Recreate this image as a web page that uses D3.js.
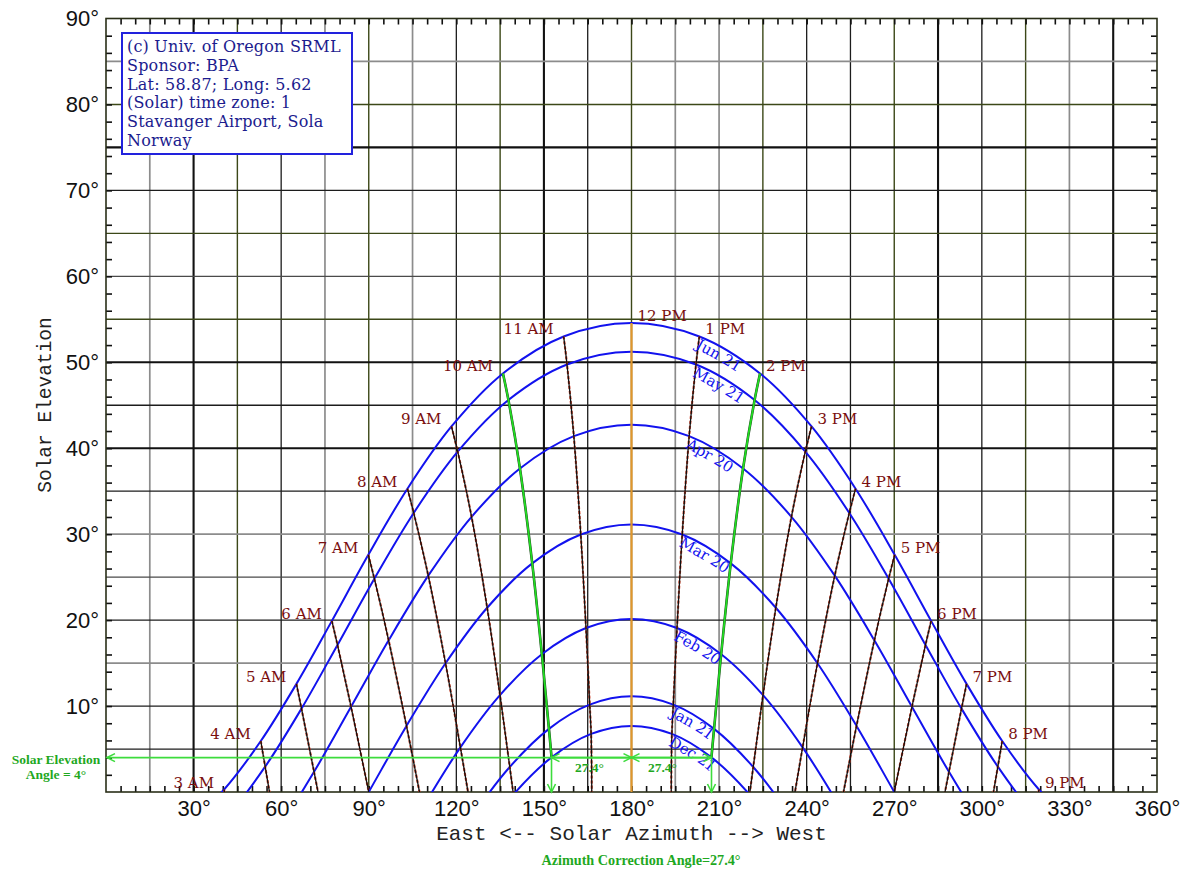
<!DOCTYPE html>
<html>
<head>
<meta charset="utf-8">
<script src="https://cdn.jsdelivr.net/npm/d3@7"></script>
<style>
  body { margin: 0; background: #fff; }
  svg { display: block; }
</style>
</head>
<body>
<svg id="chart" width="1186" height="870"></svg>
<script>
// solar time of each column in the date arrays
const hourLabels = ["2 AM", "3 AM", "4 AM", "5 AM", "6 AM", "7 AM", "8 AM", "9 AM", "10 AM", "11 AM", "12 PM",
  "1 PM", "2 PM", "3 PM", "4 PM", "5 PM", "6 PM", "7 PM", "8 PM", "9 PM", "10 PM"];

const dateLabels = ["Jun 21", "May 21", "Apr 20", "Mar 20", "Feb 20", "Jan 21", "Dec 21"];

// [azimuth, elevation] per hour, null = not drawn
const jun21 = [[27.38, -4.03], [40.45, 0.29], [53.02, 5.93], [65.23, 12.58], [77.37, 19.91], [89.85, 27.60],
  [103.25, 35.29], [118.33, 42.53], [135.97, 48.70], [156.76, 53.00], [180, 54.57], [203.24, 53.00],
  [224.03, 48.70], [241.67, 42.53], [256.75, 35.29], [270.15, 27.60], [282.63, 19.91], [294.77, 12.58],
  [306.98, 5.93], [319.55, 0.29], [332.62, -4.03]];
const may21 = [[28.25, -7.25], [41.67, -2.82], [54.52, 2.95], [66.96, 9.70], [79.29, 17.11], [91.92, 24.82],
  [105.40, 32.47], [120.47, 39.60], [137.84, 45.61], [157.91, 49.74], [180, 51.23], [202.09, 49.74],
  [222.16, 45.61], [239.53, 39.60], [254.60, 32.47], [268.08, 24.82], [280.71, 17.11], [293.04, 9.70],
  [305.48, 2.95], [318.33, -2.82], [331.75, -7.25]];
const apr20 = [null, [44.83, -10.72], [58.33, -4.65], [71.26, 2.35], [83.94, 9.91], [96.81, 17.65],
  [110.38, 25.17], [125.22, 32.02], [141.79, 37.64], [160.25, 41.40], [180, 42.73], [199.75, 41.40],
  [218.21, 37.64], [234.78, 32.02], [249.62, 25.17], [263.19, 17.65], [276.06, 9.91], [288.74, 2.35],
  [301.67, -4.65], [315.17, -10.72], null];
const mar20 = [null, null, null, [77.08, -7.69], [90, 0], [102.92, 7.69], [116.30, 14.98], [130.56, 21.44],
  [146.00, 26.60], [162.62, 29.96], [180, 31.13], [197.38, 29.96], [214.00, 26.60], [229.44, 21.44],
  [243.70, 14.98], [257.08, 7.69], [270, 0], [282.92, -7.69], null, null, null];
const feb20 = [null, null, null, null, [95.74, -9.40], [108.44, -1.83], [121.39, 5.19], [134.95, 11.27],
  [149.29, 16.03], [164.41, 19.08], [180, 20.13], [195.59, 19.08], [210.71, 16.03], [225.05, 11.27],
  [238.61, 5.19], [251.56, -1.83], [264.26, -9.40], null, null, null, null];
const jan21 = [null, null, null, null, null, [112.98, -9.62], [125.43, -2.86], [138.30, 2.91], [151.72, 7.35],
  [165.69, 10.16], [180, 11.13], [194.31, 10.16], [208.28, 7.35], [221.70, 2.91], [234.57, -2.86],
  [247.02, -9.62], null, null, null, null, null];
const dec21 = [null, null, null, null, null, null, [126.98, -5.93], [139.55, -0.29], [152.62, 4.03],
  [166.17, 6.76], [180, 7.69], [193.83, 6.76], [207.38, 4.03], [220.45, -0.29], [233.02, -5.93],
  null, null, null, null, null, null];

// hour lines that run on below Dec 21 down to the horizon
const hourFeet = [["11 AM", 166.4, -1], ["12 PM", 180, -1], ["1 PM", 193.6, -1]];
const labelledHours = hourLabels.slice(1, 20);
const highlightHours = ["10 AM", "2 PM"];

const azimuthTicks = [30, 60, 90, 120, 150, 180, 210, 240, 270, 300, 330, 360];
const elevationTicks = [10, 20, 30, 40, 50, 60, 70, 80, 90];

const elevationAngle = 4;
const correctionAngle = 27.4;

const infoLines = ["(c) Univ. of Oregon SRML", "Sponsor: BPA", "Lat: 58.87; Long: 5.62",
  "(Solar) time zone: 1", "Stavanger Airport, Sola", "Norway"];

const series = [jun21, may21, apr20, mar20, feb20, jan21, dec21];

const green = '#3ddc3d';
const greenText = '#1fa81f';
const blue = '#1212ee';

// grid line look
const gridStyles = {
  K: ['#111', 2.1], k: ['#1c1c1c', 1.3], o: ['#3c4818', 1.4], g: ['#8c8c8c', 1.7], d: ['#4a4a4a', 1.4],
};
const vGrid = {
  15: 'g', 30: 'K', 45: 'o', 60: 'k', 75: 'g', 90: 'o', 105: 'g', 120: 'k', 135: 'o', 150: 'K', 165: 'k', 180: 'o',
  195: 'g', 210: 'g', 225: 'o', 240: 'k', 255: 'k', 270: 'o', 285: 'K', 300: 'k', 315: 'o', 330: 'g', 345: 'K',
};
const hGrid = {
  5: 'k', 10: 'k', 15: 'g', 20: 'k', 25: 'd', 30: 'g', 35: 'k', 40: 'K', 45: 'k', 50: 'K', 55: 'o', 60: 'd',
  65: 'o', 70: 'k', 75: 'K', 80: 'o', 85: 'g',
};

const svg = d3.select('#chart');
const x = d3.scaleLinear().domain([0, 360]).range([106, 1157]);
const y = d3.scaleLinear().domain([0, 90]).range([792, 18.5]);

const defs = svg.append('defs');
defs.append('clipPath')
  .attr('id', 'plot')
  .append('rect')
  .attr('x', x(0))
  .attr('y', y(90))
  .attr('width', x(360) - x(0))
  .attr('height', y(0) - y(90));
defs.append('marker')
  .attr('id', 'arrow')
  .attr('viewBox', '-10 -6 12 12')
  .attr('markerWidth', 12)
  .attr('markerHeight', 12)
  .attr('markerUnits', 'userSpaceOnUse')
  .attr('orient', 'auto-start-reverse')
  .append('path')
  .attr('d', 'M-8,-4L0,0L-8,4')
  .attr('fill', 'none')
  .attr('stroke', green)
  .attr('stroke-width', 1.6);

// grid
const grid = svg.append('g');
grid.selectAll('.v')
  .data(Object.keys(vGrid).map(Number))
  .join('line')
  .attr('x1', (d) => x(d)).attr('x2', (d) => x(d))
  .attr('y1', y(90)).attr('y2', y(0))
  .attr('stroke', (d) => gridStyles[vGrid[d]][0])
  .attr('stroke-width', (d) => gridStyles[vGrid[d]][1]);
grid.selectAll('.h')
  .data(Object.keys(hGrid).map(Number))
  .join('line')
  .attr('y1', (d) => y(d)).attr('y2', (d) => y(d))
  .attr('x1', x(0)).attr('x2', x(360))
  .attr('stroke', (d) => gridStyles[hGrid[d]][0])
  .attr('stroke-width', (d) => gridStyles[hGrid[d]][1]);

// inner ticks
const tickAxis = (axis, tx, ty) => svg.append('g')
  .attr('transform', `translate(${tx},${ty})`)
  .call(axis)
  .call((g) => g.select('.domain').remove())
  .call((g) => g.selectAll('line').attr('stroke', '#111').attr('stroke-width', 1.6));
tickAxis(d3.axisLeft(y).tickValues(d3.range(2, 90, 2)).tickSize(-6).tickFormat(''), x(0), 0);
tickAxis(d3.axisRight(y).tickValues(d3.range(2, 90, 2)).tickSize(-6).tickFormat(''), x(360), 0);
tickAxis(d3.axisTop(x).tickValues(d3.range(5, 360, 5)).tickSize(-6).tickFormat(''), 0, y(90));
tickAxis(d3.axisBottom(x).tickValues(d3.range(5, 360, 5)).tickSize(-6).tickFormat(''), 0, y(0));

svg.append('rect')
  .attr('x', x(0)).attr('y', y(90))
  .attr('width', x(360) - x(0)).attr('height', y(0) - y(90))
  .attr('fill', 'none')
  .attr('stroke', '#2a2f18')
  .attr('stroke-width', 1.6);

// tick labels
const labelAxis = (axis, tx, ty) => svg.append('g')
  .attr('transform', `translate(${tx},${ty})`)
  .call(axis)
  .call((g) => g.select('.domain').remove())
  .call((g) => g.selectAll('.tick line').remove())
  .call((g) => g.selectAll('.tick text')
    .attr('font-family', 'Liberation Sans, Arial, sans-serif')
    .attr('font-size', 22)
    .attr('fill', '#111'));
labelAxis(d3.axisLeft(y).tickValues(elevationTicks).tickSize(0).tickPadding(7).tickFormat((d) => `${d}°`), x(0), 0);
labelAxis(d3.axisBottom(x).tickValues(azimuthTicks).tickSize(0).tickPadding(8).tickFormat((d) => `${d}°`), 0, y(0));

svg.append('text')
  .attr('transform', 'translate(46,405) rotate(-90)')
  .attr('text-anchor', 'middle')
  .attr('dominant-baseline', 'middle')
  .attr('font-family', 'Liberation Mono, Courier New, monospace')
  .attr('font-size', 19.5)
  .attr('fill', '#222')
  .text('Solar Elevation');
svg.append('text')
  .attr('x', x(180))
  .attr('y', 840)
  .attr('text-anchor', 'middle')
  .attr('font-family', 'Liberation Mono, Courier New, monospace')
  .attr('font-size', 21)
  .attr('fill', '#222')
  .text('East <-- Solar Azimuth --> West');

const line = d3.line()
  .x((d) => x(d[0]))
  .y((d) => y(d[1]))
  .curve(d3.curveCatmullRom.alpha(0.5));

const plot = svg.append('g').attr('clip-path', 'url(#plot)');

// sun paths
plot.selectAll('.path')
  .data(series)
  .join('path')
  .attr('d', (d) => line(d.filter(Boolean)))
  .attr('fill', 'none')
  .attr('stroke', blue)
  .attr('stroke-width', 2);

// hour lines
const hourData = labelledHours.map((label) => {
  const i = hourLabels.indexOf(label);
  const pts = series.map((s) => s[i]).filter(Boolean);
  hourFeet.filter((f) => f[0] === label).forEach((f) => pts.push([f[1], f[2]]));
  return { label, pts };
});
hourData.forEach((h) => {
  const g = plot.append('g');
  if (h.label === '12 PM') {
    g.append('path').attr('d', line(h.pts)).attr('fill', 'none')
      .attr('stroke', '#e0962c').attr('stroke-width', 2.2);
  } else if (highlightHours.includes(h.label)) {
    g.append('path').attr('d', line(h.pts)).attr('fill', 'none')
      .attr('stroke', '#224422').attr('stroke-width', 2.6);
    g.append('path').attr('d', line(h.pts)).attr('fill', 'none')
      .attr('stroke', '#22dd22').attr('stroke-width', 1.8);
  } else {
    g.append('path').attr('d', line(h.pts)).attr('fill', 'none')
      .attr('stroke', '#d23a1e').attr('stroke-width', 2.1)
      .attr('stroke-dasharray', '3,2');
    g.append('path').attr('d', line(h.pts)).attr('fill', 'none')
      .attr('stroke', '#111').attr('stroke-width', 1.3);
  }
});

// hour labels at the Jun 21 end
svg.append('g')
  .selectAll('text')
  .data(hourData)
  .join('text')
  .attr('x', (d) => {
    const px = x(d.pts[0][0]);
    return d.label.endsWith('AM') ? px - 10 : px + 6;
  })
  .attr('y', (d) => y(d.pts[0][1]) - 6)
  .attr('dominant-baseline', 'middle')
  .attr('text-anchor', (d) => (d.label.endsWith('AM') ? 'end' : 'start'))
  .attr('font-family', 'DejaVu Serif, serif')
  .attr('font-size', 15)
  .attr('fill', '#7a0e0e')
  .text((d) => d.label);

// date labels running along each curve from 1 PM
const pm1 = hourLabels.indexOf('1 PM');
series.forEach((s, i) => {
  defs.append('path')
    .attr('id', `date-path-${i}`)
    .attr('d', line(s.slice(pm1, pm1 + 3)));
  svg.append('text')
    .attr('font-family', 'DejaVu Serif, serif')
    .attr('font-size', 15)
    .attr('fill', blue)
    .attr('dy', 12)
    .append('textPath')
    .attr('href', `#date-path-${i}`)
    .attr('startOffset', 2)
    .text(dateLabels[i]);
});

// correction angle construction
const ann = svg.append('g')
  .attr('stroke', green)
  .attr('stroke-width', 1.6)
  .attr('fill', 'none');
const azLeft = 180 - correctionAngle;
const azRight = 180 + correctionAngle;
ann.append('line')
  .attr('x1', x(azRight)).attr('x2', x(0) + 1)
  .attr('y1', y(elevationAngle)).attr('y2', y(elevationAngle))
  .attr('marker-end', 'url(#arrow)');
[[180, azLeft], [180, azRight]].forEach(([a, b]) => {
  ann.append('line')
    .attr('x1', x(a)).attr('x2', x(b))
    .attr('y1', y(elevationAngle)).attr('y2', y(elevationAngle))
    .attr('marker-start', 'url(#arrow)')
    .attr('marker-end', 'url(#arrow)');
});
[azLeft, azRight].forEach((a) => {
  ann.append('line')
    .attr('x1', x(a)).attr('x2', x(a))
    .attr('y1', y(elevationAngle)).attr('y2', y(0))
    .attr('marker-end', 'url(#arrow)');
});

const greenLabel = (tx, ty, txt, size) => svg.append('text')
  .attr('x', tx)
  .attr('y', ty)
  .attr('text-anchor', 'middle')
  .attr('font-family', 'Liberation Serif, Times New Roman, serif')
  .attr('font-weight', 'bold')
  .attr('font-size', size)
  .attr('fill', greenText)
  .text(txt);
greenLabel(x(180) - 42, 772, `${correctionAngle}°`, 13.5);
greenLabel(x(180) + 31, 772, `${correctionAngle}°`, 13.5);
greenLabel(56, 764, 'Solar Elevation', 13.5);
greenLabel(56, 779, `Angle = ${elevationAngle}°`, 13.5);
greenLabel(641, 865, `Azimuth Correction Angle=${correctionAngle}°`, 14.2);

// info box
svg.append('rect')
  .attr('x', 122).attr('y', 33)
  .attr('width', 230).attr('height', 121)
  .attr('fill', '#fff')
  .attr('stroke', '#2222dd')
  .attr('stroke-width', 2);
svg.append('g')
  .selectAll('text')
  .data(infoLines)
  .join('text')
  .attr('x', 127)
  .attr('y', (d, i) => 52 + i * 18.8)
  .attr('font-family', 'DejaVu Serif, serif')
  .attr('font-size', 16)
  .attr('letter-spacing', 0.2)
  .attr('fill', '#1c1c8e')
  .text((d) => d);
</script>
</body>
</html>
